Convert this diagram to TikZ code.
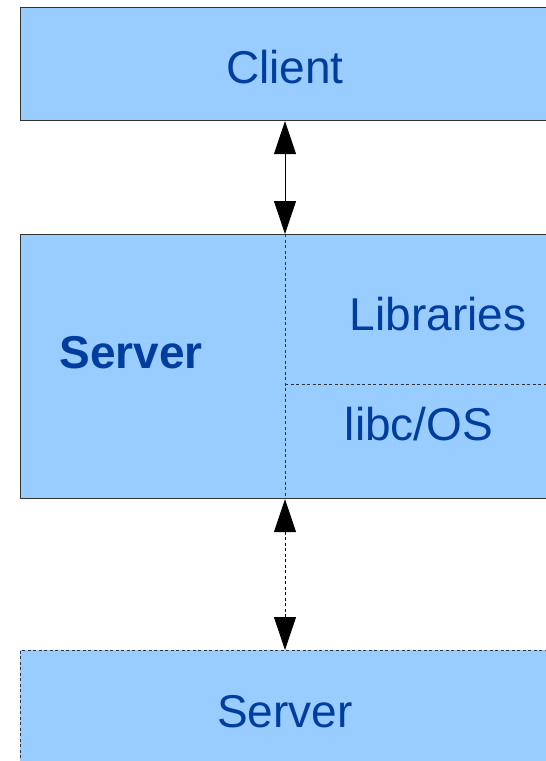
\documentclass[tikz,border=0pt]{standalone}
\usepackage{fontspec}
\setmainfont{Liberation Sans}
\usetikzlibrary{arrows.meta}
\definecolor{boxfill}{HTML}{99CCFF}
\definecolor{txtblue}{HTML}{003D9E}
\definecolor{edge}{HTML}{333333}
\tikzset{
  box/.style={draw=edge, line width=1.1pt, fill=boxfill, rectangle, inner sep=0pt, anchor=north west, minimum width=560pt},
  dashbox/.style={box, dash pattern=on 3pt off 2.5pt, line width=0.9pt},
  lbl/.style={text=txtblue, font=\fontsize{46}{52}\selectfont, anchor=base, inner sep=0pt},
  biarrow/.style={{Triangle[length=33pt,width=22pt]}-{Triangle[length=33pt,width=22pt]}, line width=0.9pt, black},
  divline/.style={draw=edge, dash pattern=on 3pt off 2.5pt, line width=0.8pt}
}
\begin{document}
\begin{tikzpicture}[x=1pt,y=-1pt]
\useasboundingbox (0,0) rectangle (546,761);
\clip (0,0) rectangle (546,761);
\node[box, minimum height=113pt] (client) at (20,7) {};
\node[box, minimum height=264pt] (server) at (20,234) {};
\node[dashbox, minimum height=150pt] (remote) at (20,650) {};
\coordinate (ax) at (285,0);
\coordinate (hy) at (0,384);
\draw[divline] (server.north -| ax) -- (server.south -| ax);
\draw[divline] (ax |- hy) -- (server.east |- hy);
\draw[biarrow] (client.south -| ax) -- (server.north -| ax);
\draw[biarrow, dash pattern=on 3pt off 2.5pt] (server.south -| ax) -- (remote.north -| ax);
\node[lbl] (tclient) at (285,83) {Client};
\node[lbl, font=\fontsize{46}{52}\selectfont\bfseries] (tserver) at (131,368) {Server};
\node[lbl] (tlib) at (438,330) {Libraries};
\node[lbl] (tlibc) at (419,440) {libc/OS};
\node[lbl] (tremote) at (285,727) {Server};
\end{tikzpicture}
\end{document}
